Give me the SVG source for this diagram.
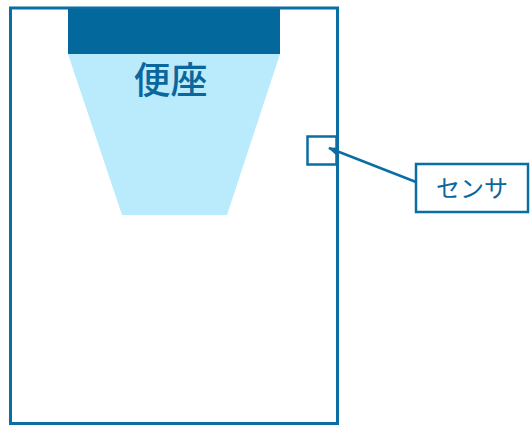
<svg xmlns="http://www.w3.org/2000/svg" width="530" height="425" viewBox="0 0 530 425">
<style>
.ln{stroke:#0b6ea3;fill:none}
.txt{font-family:"Liberation Sans","Noto Sans CJK JP",sans-serif;fill:#0b669b}
</style>
<defs>
<marker id="ah" markerWidth="10" markerHeight="8" refX="9" refY="4" orient="auto" markerUnits="userSpaceOnUse">
<path d="M0,0 L10,4 L0,8 Z" fill="#0b6ea3"/>
</marker>
</defs>
<rect width="530" height="425" fill="#fff"/>
<g id="box">
<rect x="10.5" y="8" width="327" height="415.5" class="ln" stroke-width="3"/>
</g>
<g id="seat">
<polygon points="68,54 280,54 227,215 122,215" fill="#b9ebfd"/>
<rect x="68" y="9" width="212" height="45" fill="#03689c"/>
<text x="170.5" y="94" text-anchor="middle" class="txt" font-size="37" font-weight="500">便座</text>
</g>
<g id="sensor">
<rect x="307.5" y="136.5" width="29" height="28" class="ln" stroke-width="2.5"/>
</g>
<g id="label">
<rect x="416" y="164" width="112" height="48" class="ln" stroke-width="2.5" fill="#fff"/>
<text x="472" y="197" text-anchor="middle" class="txt" font-size="24">センサ</text>
</g>
<g id="connectors">
<line x1="416" y1="182" x2="329" y2="148" class="ln" stroke-width="2.5" marker-end="url(#ah)"/>
</g>
</svg>
